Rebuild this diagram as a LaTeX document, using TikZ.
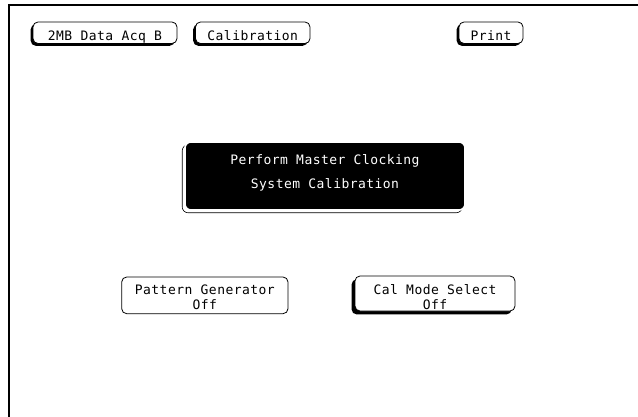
\documentclass[tikz,border=0pt]{standalone}
\usepackage{fontspec}
\setmonofont[LetterSpace=3.5]{DejaVu Sans Mono}
\usetikzlibrary{shadows}
\begin{document}
\begin{tikzpicture}[x=1pt,y=-1pt,
  lbl/.style={font=\ttfamily\fontsize{13}{15}\selectfont},
  btn/.style={lbl, draw=black, line width=0.8pt, fill=white, rounded corners=5pt,
    inner sep=0pt, align=center},
  shbtn/.style={btn, general shadow={fill=black, shadow xshift=-#1, shadow yshift=-#1}},
  shbtn/.default=2.3pt,
  darkbox/.style={lbl, text=white, fill=black, draw=white, line width=1.6pt, rounded corners=6pt,
    inner sep=0pt, align=center,
    general shadow={draw=black, fill=white, line width=0.6pt, shadow xshift=-2.8pt, shadow yshift=-2.8pt}},
  frame/.style={line width=2.4pt}]
\useasboundingbox (0,0) rectangle (638,417);
% frame
\coordinate (tl) at (9,5);
\coordinate (tr) at (638,5);
\coordinate (bl) at (9,417);
\draw[frame] (bl) -- (tl) -- (tr);
% top buttons
\node[shbtn, minimum width=144pt, minimum height=21.5pt, text height=16pt, text depth=0pt] (acq) at (105,32.75) {2MB Data Acq B};
\node[shbtn, minimum width=114.5pt, minimum height=21.5pt, text height=16pt, text depth=0pt] (cal) at (252.75,32.75) {Calibration};
\node[shbtn, minimum width=64pt, minimum height=21.5pt, text height=16pt, text depth=0pt] (prt) at (491,32.75) {Print};
% central box
\node[darkbox, minimum width=280pt, minimum height=68pt, text height=26pt, text depth=0pt] (msg) at (325,176)
  {Perform Master Clocking\\[9pt] System Calibration};
% bottom buttons
\node[btn, minimum width=166.3pt, minimum height=36.7pt, text height=27.5pt, text depth=0pt] (pat) at (204.85,295.35)
  {Pattern Generator\\Off};
\node[shbtn=3.4pt, minimum width=160pt, minimum height=35pt, text height=31pt, text depth=0pt] (mode) at (435,293.5)
  {Cal Mode Select\\Off};
\end{tikzpicture}
\end{document}
